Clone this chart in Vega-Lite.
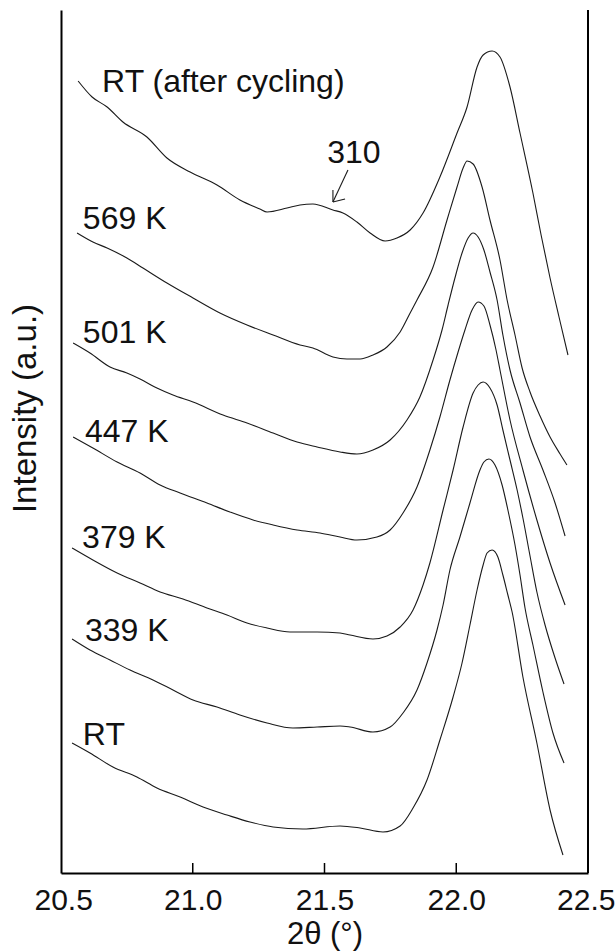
{
  "$schema": "https://vega.github.io/schema/vega-lite/v6.json",
  "width": 527,
  "height": 863,
  "autosize": "none",
  "padding": {"left": 61, "top": 10, "right": 28, "bottom": 79},
  "background": "white",
  "config": {"font": "Liberation Sans", "view": {"stroke": null}},
  "datasets": {
    "curves": [
      {"series":"RT (after cycling)","x":20.565,"y":792},{"series":"RT (after cycling)","x":20.618,"y":776},{"series":"RT (after cycling)","x":20.675,"y":766},{"series":"RT (after cycling)","x":20.735,"y":751},{"series":"RT (after cycling)","x":20.826,"y":736},{"series":"RT (after cycling)","x":20.902,"y":715},{"series":"RT (after cycling)","x":20.990,"y":701},{"series":"RT (after cycling)","x":21.092,"y":688},{"series":"RT (after cycling)","x":21.179,"y":673},{"series":"RT (after cycling)","x":21.255,"y":664},{"series":"RT (after cycling)","x":21.282,"y":661},{"series":"RT (after cycling)","x":21.358,"y":665},{"series":"RT (after cycling)","x":21.407,"y":668},{"series":"RT (after cycling)","x":21.456,"y":669},{"series":"RT (after cycling)","x":21.532,"y":663},{"series":"RT (after cycling)","x":21.570,"y":660},{"series":"RT (after cycling)","x":21.623,"y":651},{"series":"RT (after cycling)","x":21.673,"y":640},{"series":"RT (after cycling)","x":21.730,"y":632},{"series":"RT (after cycling)","x":21.775,"y":635},{"series":"RT (after cycling)","x":21.825,"y":643},{"series":"RT (after cycling)","x":21.874,"y":660},{"series":"RT (after cycling)","x":21.938,"y":696},{"series":"RT (after cycling)","x":22.003,"y":740},{"series":"RT (after cycling)","x":22.041,"y":766},{"series":"RT (after cycling)","x":22.079,"y":806},{"series":"RT (after cycling)","x":22.102,"y":818},{"series":"RT (after cycling)","x":22.136,"y":822},{"series":"RT (after cycling)","x":22.166,"y":816},{"series":"RT (after cycling)","x":22.204,"y":786},{"series":"RT (after cycling)","x":22.242,"y":740},{"series":"RT (after cycling)","x":22.291,"y":680},{"series":"RT (after cycling)","x":22.322,"y":638},{"series":"RT (after cycling)","x":22.356,"y":595},{"series":"RT (after cycling)","x":22.390,"y":556},{"series":"RT (after cycling)","x":22.424,"y":518},
      {"series":"569 K","x":20.561,"y":640},{"series":"569 K","x":20.621,"y":631},{"series":"569 K","x":20.675,"y":625},{"series":"569 K","x":20.750,"y":615},{"series":"569 K","x":20.811,"y":605},{"series":"569 K","x":20.902,"y":590},{"series":"569 K","x":21.001,"y":575},{"series":"569 K","x":21.103,"y":560},{"series":"569 K","x":21.206,"y":548},{"series":"569 K","x":21.305,"y":538},{"series":"569 K","x":21.407,"y":528},{"series":"569 K","x":21.456,"y":525},{"series":"569 K","x":21.532,"y":516},{"series":"569 K","x":21.585,"y":514},{"series":"569 K","x":21.635,"y":514},{"series":"569 K","x":21.684,"y":518},{"series":"569 K","x":21.737,"y":526},{"series":"569 K","x":21.787,"y":541},{"series":"569 K","x":21.825,"y":560},{"series":"569 K","x":21.851,"y":573},{"series":"569 K","x":21.912,"y":606},{"series":"569 K","x":21.965,"y":653},{"series":"569 K","x":22.003,"y":686},{"series":"569 K","x":22.026,"y":705},{"series":"569 K","x":22.041,"y":712},{"series":"569 K","x":22.064,"y":709},{"series":"569 K","x":22.098,"y":686},{"series":"569 K","x":22.128,"y":653},{"series":"569 K","x":22.166,"y":613},{"series":"569 K","x":22.193,"y":573},{"series":"569 K","x":22.223,"y":538},{"series":"569 K","x":22.250,"y":505},{"series":"569 K","x":22.280,"y":481},{"series":"569 K","x":22.318,"y":457},{"series":"569 K","x":22.356,"y":436},{"series":"569 K","x":22.394,"y":419},{"series":"569 K","x":22.420,"y":408},
      {"series":"501 K","x":20.546,"y":530},{"series":"501 K","x":20.610,"y":520},{"series":"501 K","x":20.686,"y":506},{"series":"501 K","x":20.750,"y":500},{"series":"501 K","x":20.800,"y":494},{"series":"501 K","x":20.864,"y":485},{"series":"501 K","x":20.925,"y":478},{"series":"501 K","x":21.001,"y":471},{"series":"501 K","x":21.115,"y":458},{"series":"501 K","x":21.206,"y":450},{"series":"501 K","x":21.305,"y":440},{"series":"501 K","x":21.396,"y":431},{"series":"501 K","x":21.472,"y":426},{"series":"501 K","x":21.559,"y":421},{"series":"501 K","x":21.623,"y":419},{"series":"501 K","x":21.684,"y":423},{"series":"501 K","x":21.749,"y":433},{"series":"501 K","x":21.813,"y":453},{"series":"501 K","x":21.862,"y":476},{"series":"501 K","x":21.912,"y":513},{"series":"501 K","x":21.946,"y":543},{"series":"501 K","x":21.969,"y":568},{"series":"501 K","x":21.995,"y":595},{"series":"501 K","x":22.022,"y":620},{"series":"501 K","x":22.045,"y":635},{"series":"501 K","x":22.064,"y":640},{"series":"501 K","x":22.083,"y":636},{"series":"501 K","x":22.105,"y":623},{"series":"501 K","x":22.128,"y":601},{"series":"501 K","x":22.155,"y":573},{"series":"501 K","x":22.177,"y":538},{"series":"501 K","x":22.204,"y":503},{"series":"501 K","x":22.242,"y":470},{"series":"501 K","x":22.280,"y":436},{"series":"501 K","x":22.329,"y":403},{"series":"501 K","x":22.375,"y":370},{"series":"501 K","x":22.413,"y":337},
      {"series":"447 K","x":20.546,"y":436},{"series":"447 K","x":20.621,"y":425},{"series":"447 K","x":20.713,"y":411},{"series":"447 K","x":20.800,"y":400},{"series":"447 K","x":20.876,"y":388},{"series":"447 K","x":20.952,"y":380},{"series":"447 K","x":21.054,"y":370},{"series":"447 K","x":21.141,"y":361},{"series":"447 K","x":21.229,"y":353},{"series":"447 K","x":21.305,"y":348},{"series":"447 K","x":21.396,"y":343},{"series":"447 K","x":21.483,"y":340},{"series":"447 K","x":21.559,"y":336},{"series":"447 K","x":21.623,"y":333},{"series":"447 K","x":21.699,"y":336},{"series":"447 K","x":21.749,"y":343},{"series":"447 K","x":21.798,"y":360},{"series":"447 K","x":21.851,"y":386},{"series":"447 K","x":21.900,"y":423},{"series":"447 K","x":21.938,"y":456},{"series":"447 K","x":21.976,"y":493},{"series":"447 K","x":22.007,"y":521},{"series":"447 K","x":22.033,"y":543},{"series":"447 K","x":22.060,"y":563},{"series":"447 K","x":22.083,"y":571},{"series":"447 K","x":22.105,"y":567},{"series":"447 K","x":22.128,"y":548},{"series":"447 K","x":22.151,"y":523},{"series":"447 K","x":22.166,"y":503},{"series":"447 K","x":22.204,"y":453},{"series":"447 K","x":22.253,"y":403},{"series":"447 K","x":22.306,"y":353},{"series":"447 K","x":22.356,"y":310},{"series":"447 K","x":22.413,"y":268},
      {"series":"379 K","x":20.542,"y":325},{"series":"379 K","x":20.621,"y":313},{"series":"379 K","x":20.713,"y":300},{"series":"379 K","x":20.800,"y":290},{"series":"379 K","x":20.876,"y":281},{"series":"379 K","x":20.963,"y":274},{"series":"379 K","x":21.054,"y":265},{"series":"379 K","x":21.130,"y":258},{"series":"379 K","x":21.206,"y":250},{"series":"379 K","x":21.282,"y":245},{"series":"379 K","x":21.369,"y":241},{"series":"379 K","x":21.472,"y":241},{"series":"379 K","x":21.559,"y":240},{"series":"379 K","x":21.597,"y":238},{"series":"379 K","x":21.684,"y":234},{"series":"379 K","x":21.737,"y":237},{"series":"379 K","x":21.787,"y":246},{"series":"379 K","x":21.836,"y":263},{"series":"379 K","x":21.874,"y":288},{"series":"379 K","x":21.900,"y":310},{"series":"379 K","x":21.950,"y":363},{"series":"379 K","x":21.988,"y":403},{"series":"379 K","x":22.026,"y":446},{"series":"379 K","x":22.064,"y":480},{"series":"379 K","x":22.083,"y":488},{"series":"379 K","x":22.102,"y":491},{"series":"379 K","x":22.128,"y":485},{"series":"379 K","x":22.155,"y":468},{"series":"379 K","x":22.177,"y":443},{"series":"379 K","x":22.204,"y":413},{"series":"379 K","x":22.231,"y":383},{"series":"379 K","x":22.253,"y":355},{"series":"379 K","x":22.280,"y":317},{"series":"379 K","x":22.306,"y":281},{"series":"379 K","x":22.337,"y":248},{"series":"379 K","x":22.375,"y":215},{"series":"379 K","x":22.409,"y":189},
      {"series":"339 K","x":20.542,"y":234},{"series":"339 K","x":20.610,"y":223},{"series":"339 K","x":20.686,"y":213},{"series":"339 K","x":20.762,"y":203},{"series":"339 K","x":20.849,"y":193},{"series":"339 K","x":20.925,"y":183},{"series":"339 K","x":21.001,"y":173},{"series":"339 K","x":21.092,"y":166},{"series":"339 K","x":21.179,"y":158},{"series":"339 K","x":21.282,"y":150},{"series":"339 K","x":21.380,"y":145},{"series":"339 K","x":21.472,"y":146},{"series":"339 K","x":21.559,"y":147},{"series":"339 K","x":21.597,"y":146},{"series":"339 K","x":21.684,"y":141},{"series":"339 K","x":21.749,"y":146},{"series":"339 K","x":21.798,"y":160},{"series":"339 K","x":21.851,"y":183},{"series":"339 K","x":21.889,"y":210},{"series":"339 K","x":21.927,"y":243},{"series":"339 K","x":21.950,"y":268},{"series":"339 K","x":21.976,"y":303},{"series":"339 K","x":22.014,"y":336},{"series":"339 K","x":22.052,"y":370},{"series":"339 K","x":22.090,"y":403},{"series":"339 K","x":22.105,"y":411},{"series":"339 K","x":22.124,"y":414},{"series":"339 K","x":22.147,"y":408},{"series":"339 K","x":22.174,"y":388},{"series":"339 K","x":22.196,"y":363},{"series":"339 K","x":22.223,"y":328},{"series":"339 K","x":22.242,"y":298},{"series":"339 K","x":22.261,"y":265},{"series":"339 K","x":22.291,"y":228},{"series":"339 K","x":22.329,"y":181},{"series":"339 K","x":22.367,"y":140},{"series":"339 K","x":22.409,"y":110},
      {"series":"RT","x":20.542,"y":130},{"series":"RT","x":20.610,"y":120},{"series":"RT","x":20.697,"y":106},{"series":"RT","x":20.788,"y":96},{"series":"RT","x":20.864,"y":85},{"series":"RT","x":20.952,"y":76},{"series":"RT","x":21.039,"y":66},{"series":"RT","x":21.130,"y":58},{"series":"RT","x":21.217,"y":51},{"series":"RT","x":21.305,"y":46},{"series":"RT","x":21.418,"y":44},{"series":"RT","x":21.559,"y":47},{"series":"RT","x":21.635,"y":45},{"series":"RT","x":21.722,"y":41},{"series":"RT","x":21.787,"y":47},{"series":"RT","x":21.836,"y":65},{"series":"RT","x":21.889,"y":93},{"series":"RT","x":21.938,"y":133},{"series":"RT","x":21.988,"y":176},{"series":"RT","x":22.022,"y":210},{"series":"RT","x":22.052,"y":248},{"series":"RT","x":22.079,"y":283},{"series":"RT","x":22.102,"y":308},{"series":"RT","x":22.117,"y":320},{"series":"RT","x":22.136,"y":323},{"series":"RT","x":22.158,"y":316},{"series":"RT","x":22.177,"y":298},{"series":"RT","x":22.196,"y":278},{"series":"RT","x":22.212,"y":261},{"series":"RT","x":22.253,"y":196},{"series":"RT","x":22.306,"y":130},{"series":"RT","x":22.356,"y":63},{"series":"RT","x":22.405,"y":18}
    ],
    "labels": [
      {"label":"RT (after cycling)","x":20.656,"y":781},
      {"label":"569 K","x":20.583,"y":644},
      {"label":"501 K","x":20.583,"y":530},
      {"label":"447 K","x":20.591,"y":431},
      {"label":"379 K","x":20.580,"y":325},
      {"label":"339 K","x":20.591,"y":232},
      {"label":"RT","x":20.583,"y":128},
      {"label":"310","x":21.510,"y":710}
    ],
    "arrow": [
      {"x":21.589,"y":703,"x2":21.532,"y2":671},
      {"x":21.532,"y":671,"x2":21.532,"y2":683},
      {"x":21.532,"y":671,"x2":21.578,"y2":674}
    ],
    "ticks": [
      {"x":21.0,"y":0,"y2":10},
      {"x":21.5,"y":0,"y2":10},
      {"x":22.0,"y":0,"y2":10}
    ],
    "frame": [{"x":22.5}]
  },
  "layer": [
    {
      "data": {"name": "curves"},
      "mark": {"type": "line", "interpolate": "monotone", "color": "#1a1a1a", "strokeWidth": 1.1},
      "encoding": {
        "x": {"field": "x", "type": "quantitative",
          "scale": {"domain": [20.5, 22.5], "nice": false, "zero": false},
          "axis": {"title": "2θ (°)", "values": [20.5, 21, 21.5, 22, 22.5], "format": ".1f", "grid": false,
            "domainColor": "black", "domainWidth": 2, "ticks": false,
            "labelPadding": 12, "labelFontSize": 30, "labelColor": "#111", "labelFlush": true, "labelFlushOffset": 27,
            "titleFontSize": 31, "titleFontWeight": "normal", "titleColor": "#111", "titlePadding": 4}},
        "y": {"field": "y", "type": "quantitative",
          "scale": {"domain": [0, 863], "nice": false, "zero": false},
          "axis": {"title": "Intensity (a.u.)", "ticks": false, "labels": false, "grid": false,
            "domainColor": "black", "domainWidth": 2,
            "titleFontSize": 33, "titleFontWeight": "normal", "titleColor": "#111", "titlePadding": 19, "titleY": 398}},
        "detail": {"field": "series", "type": "nominal"}
      }
    },
    {
      "data": {"name": "labels"},
      "mark": {"type": "text", "align": "left", "baseline": "alphabetic", "fontSize": 32, "color": "#111"},
      "encoding": {
        "x": {"field": "x", "type": "quantitative"},
        "y": {"field": "y", "type": "quantitative"},
        "text": {"field": "label"}
      }
    },
    {
      "data": {"name": "arrow"},
      "mark": {"type": "rule", "color": "#1a1a1a", "strokeWidth": 1.1},
      "encoding": {
        "x": {"field": "x", "type": "quantitative"},
        "y": {"field": "y", "type": "quantitative"},
        "x2": {"field": "x2"},
        "y2": {"field": "y2"}
      }
    },
    {
      "data": {"name": "ticks"},
      "mark": {"type": "rule", "color": "black", "strokeWidth": 1.5},
      "encoding": {
        "x": {"field": "x", "type": "quantitative"},
        "y": {"field": "y", "type": "quantitative"},
        "y2": {"field": "y2"}
      }
    },
    {
      "data": {"name": "frame"},
      "mark": {"type": "rule", "color": "black", "strokeWidth": 2},
      "encoding": {
        "x": {"field": "x", "type": "quantitative"}
      }
    }
  ]
}
